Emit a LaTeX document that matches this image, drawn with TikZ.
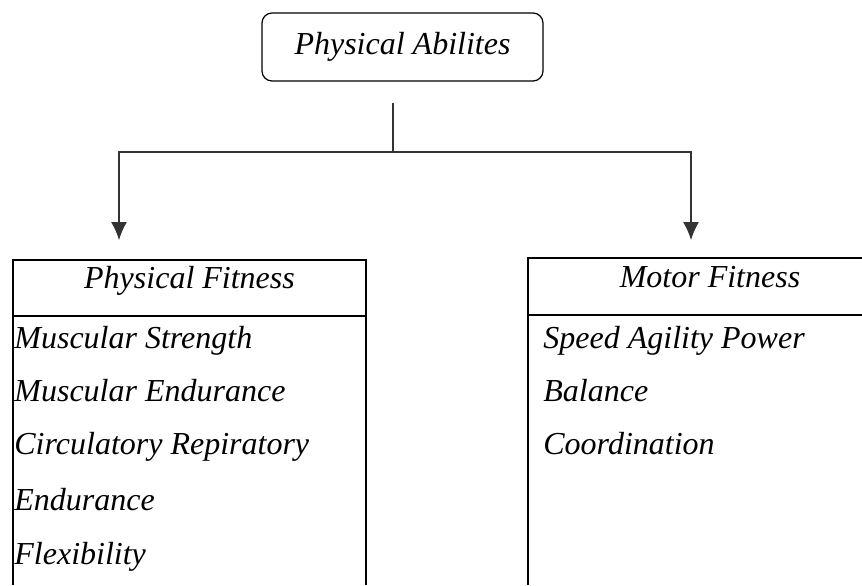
\documentclass[tikz,border=0pt]{standalone}
\usepackage{fontspec}
\setmainfont{Liberation Serif}
\usetikzlibrary{arrows.meta}

\begin{document}
\begin{tikzpicture}[x=0.5pt, y=-0.5pt,
        txt/.style={font=\fontsize{16}{19}\selectfont\itshape, inner sep=0pt},
        item/.style={txt, anchor=base west},
        head/.style={txt, anchor=base},
        topbox/.style={draw, rounded corners=5pt, line width=0.6pt, minimum width=140.5pt, minimum height=34pt, txt},
        box/.style={line width=1pt},
        conn/.style={draw=black!80, line width=0.6pt},
        arr/.style={conn, -{Latex[length=9pt, width=8pt]}}]
        \useasboundingbox (0,0) rectangle (862,585);

        % Top box
        \node[topbox] (abil) at (402.5,47) {Physical Abilites};

        % Connectors
        \coordinate (stem) at (393,103);
        \coordinate (split) at (393,152);
        \coordinate (lefttip) at (119,240);
        \coordinate (righttip) at (691,240);
        \draw[conn] (stem) -- (split);
        \draw[arr] (split) -| (lefttip);
        \draw[arr] (split) -| (righttip);

        % Left box
        \draw[box] (13,585) |- (366,260) -- (366,585);
        \draw[box] (13,316) -- (366,316);
        \node[head] (pf) at (189.5,288) {Physical Fitness};
        \node[item] (ms) at (14,348) {Muscular Strength};
        \node[item] (me) at (14,401) {Muscular Endurance};
        \node[item] (cr) at (14,454) {Circulatory Repiratory};
        \node[item] (en) at (14,510) {Endurance};
        \node[item] (fl) at (14,564) {Flexibility};

        % Right box
        \draw[box] (528,585) |- (862,258);
        \draw[box] (528,315) -- (862,315);
        \node[head] (mf) at (710,287) {Motor Fitness};
        \node[item] (sap) at (543,348) {Speed Agility Power};
        \node[item] (bal) at (543,401) {Balance};
        \node[item] (co) at (543,454) {Coordination};
    \end{tikzpicture}
\end{document}
